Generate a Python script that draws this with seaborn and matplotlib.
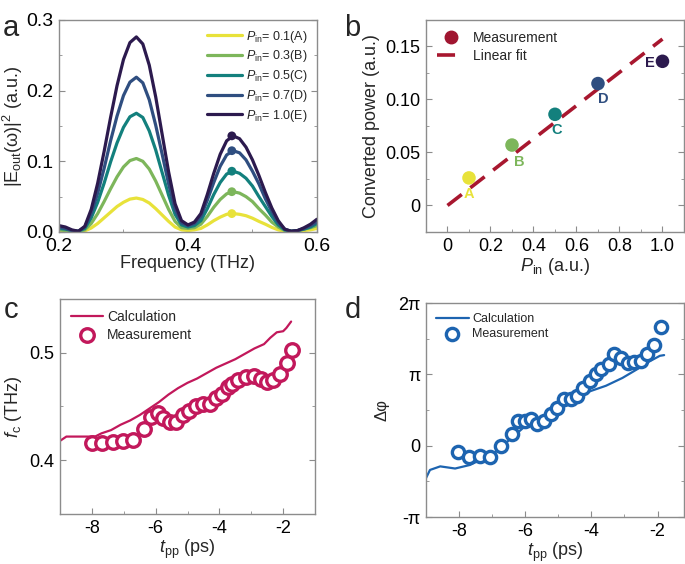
import numpy as np
import pandas as pd
import matplotlib
matplotlib.use('Agg')
import matplotlib.pyplot as plt
from matplotlib.lines import Line2D
from matplotlib.ticker import MultipleLocator
import seaborn as sns

# ---- panel a: spectra |E_out(w)|^2 for five pump powers ----
freq = np.round(np.arange(0.20, 0.605, 0.01), 2)
spec_A = [0.001, 0.001, 0.0005, 0.0003, 0.0015, 0.0056, 0.012, 0.020, 0.028, 0.036, 0.042,
          0.0465, 0.048, 0.046, 0.041, 0.033, 0.024, 0.015, 0.007, 0.003, 0.002,
          0.003, 0.005, 0.010, 0.016, 0.021, 0.025, 0.026, 0.025, 0.023, 0.0195,
          0.015, 0.011, 0.0065, 0.003, 0.001, 0.0005, 0.001, 0.002, 0.003, 0.005]
spec_B = [0.003, 0.002, 0.001, 0.0005, 0.003, 0.012, 0.026, 0.043, 0.061, 0.078, 0.092,
          0.101, 0.104, 0.100, 0.089, 0.072, 0.052, 0.032, 0.015, 0.006, 0.005,
          0.006, 0.011, 0.022, 0.035, 0.046, 0.054, 0.057, 0.055, 0.050, 0.043,
          0.033, 0.024, 0.014, 0.007, 0.002, 0.001, 0.002, 0.004, 0.006, 0.009]
spec_C = [0.005, 0.004, 0.002, 0.001, 0.005, 0.020, 0.042, 0.069, 0.099, 0.126, 0.148,
          0.163, 0.168, 0.162, 0.143, 0.116, 0.084, 0.052, 0.025, 0.010, 0.007,
          0.009, 0.016, 0.033, 0.053, 0.070, 0.082, 0.086, 0.083, 0.076, 0.065,
          0.050, 0.036, 0.022, 0.010, 0.003, 0.001, 0.002, 0.004, 0.007, 0.012]
spec_D = [0.007, 0.005, 0.002, 0.001, 0.007, 0.026, 0.055, 0.090, 0.129, 0.164, 0.193,
          0.212, 0.219, 0.211, 0.187, 0.151, 0.110, 0.068, 0.032, 0.013, 0.009,
          0.012, 0.022, 0.045, 0.070, 0.093, 0.109, 0.115, 0.112, 0.102, 0.086,
          0.068, 0.047, 0.029, 0.013, 0.004, 0.001, 0.002, 0.005, 0.009, 0.014]
spec_E = [0.009, 0.007, 0.003, 0.001, 0.008, 0.032, 0.069, 0.114, 0.162, 0.207, 0.244,
          0.268, 0.276, 0.266, 0.236, 0.191, 0.138, 0.085, 0.040, 0.016, 0.010,
          0.014, 0.026, 0.053, 0.083, 0.110, 0.129, 0.136, 0.132, 0.120, 0.102,
          0.080, 0.056, 0.034, 0.016, 0.004, 0.001, 0.002, 0.006, 0.011, 0.018]
spec_labels = [r'$P_{\rm in}$= 0.1(A)', r'$P_{\rm in}$= 0.3(B)', r'$P_{\rm in}$= 0.5(C)',
               r'$P_{\rm in}$= 0.7(D)', r'$P_{\rm in}$= 1.0(E)']
colors = ['#e8e23a', '#7db65b', '#13807d', '#2f4e80', '#2c1a4e']
peak_freq = 0.468

# ---- panel b: converted power vs P_in ----
p_in = [0.1, 0.3, 0.5, 0.7, 1.0]
conv_power = [0.026, 0.057, 0.086, 0.115, 0.136]
point_names = ['A', 'B', 'C', 'D', 'E']
name_x = [0.10, 0.335, 0.507, 0.723, 0.94]
name_y = [0.011, 0.041, 0.071, 0.100, 0.134]
fit_x = [0.0, 1.0]
fit_y = [0.0, 0.157]

# ---- panel c: centre frequency vs delay ----
calc_t = [-9.0, -8.8, -8.5, -8.2, -7.9, -7.7, -7.4, -7.1, -6.8, -6.5, -6.2, -5.9, -5.6,
          -5.3, -5.0, -4.7, -4.4, -4.1, -3.8, -3.5, -3.2, -2.9, -2.6, -2.4, -2.2, -2.0,
          -1.9, -1.75]
calc_fc = [0.418, 0.422, 0.422, 0.422, 0.422, 0.425, 0.428, 0.433, 0.437, 0.442, 0.448,
           0.454, 0.461, 0.467, 0.472, 0.476, 0.481, 0.486, 0.490, 0.494, 0.499, 0.504,
           0.508, 0.514, 0.519, 0.520, 0.523, 0.529]
meas_t_c = [-8.0, -7.69, -7.35, -7.01, -6.70, -6.36, -6.13, -5.94, -5.77, -5.56, -5.35,
            -5.14, -4.94, -4.73, -4.52, -4.31, -4.11, -3.92, -3.74, -3.61, -3.43, -3.17,
            -2.93, -2.70, -2.51, -2.31, -2.10, -1.89, -1.72]
meas_fc = [0.4156, 0.4156, 0.417, 0.418, 0.419, 0.429, 0.440, 0.444, 0.439, 0.436, 0.436,
           0.442, 0.446, 0.450, 0.452, 0.452, 0.458, 0.462, 0.468, 0.471, 0.475, 0.477,
           0.478, 0.476, 0.473, 0.475, 0.480, 0.490, 0.503]

# ---- panel d: phase difference vs delay (units of pi) ----
calc_t_d = [-9.0, -8.88, -8.57, -8.12, -7.67, -7.27, -6.87, -6.47, -6.06, -5.66, -5.26,
            -4.86, -4.46, -4.06, -3.56, -3.06, -2.55, -2.25, -1.93, -1.8]
calc_phi = [-0.455, -0.34, -0.29, -0.32, -0.27, -0.18, -0.08, 0.085, 0.25, 0.37, 0.46,
            0.58, 0.68, 0.76, 0.84, 0.95, 1.09, 1.18, 1.26, 1.27]
meas_t_d = [-8.02, -7.70, -7.37, -7.05, -6.72, -6.40, -6.21, -6.01, -5.83, -5.63, -5.43,
            -5.23, -5.03, -4.83, -4.63, -4.44, -4.24, -4.04, -3.86, -3.71, -3.48, -3.31,
            -3.10, -2.90, -2.71, -2.51, -2.31, -2.10, -1.90]
meas_phi = [-0.094, -0.164, -0.141, -0.16, -0.01, 0.17, 0.34, 0.35, 0.37, 0.30, 0.34,
            0.45, 0.53, 0.65, 0.66, 0.69, 0.81, 0.90, 1.0, 1.07, 1.14, 1.28,
            1.23, 1.16, 1.18, 1.19, 1.28, 1.41, 1.66]

sns.set_style('ticks')
plt.rcParams['font.family'] = ['Liberation Sans', 'DejaVu Sans']
plt.rcParams['mathtext.fontset'] = 'custom'
plt.rcParams['mathtext.rm'] = 'Liberation Sans'
plt.rcParams['mathtext.it'] = 'Liberation Sans:italic'
plt.rcParams['axes.edgecolor'] = '#8c8c8c'
plt.rcParams['xtick.color'] = '#8c8c8c'
plt.rcParams['ytick.color'] = '#8c8c8c'
plt.rcParams['xtick.labelcolor'] = 'black'
plt.rcParams['ytick.labelcolor'] = 'black'

fig = plt.figure(figsize=(6.85, 5.64), dpi=100)
ax_a = fig.add_axes([0.0861, 0.5887, 0.3766, 0.3759])
ax_b = fig.add_axes([0.6219, 0.5887, 0.3766, 0.3759])
ax_c = fig.add_axes([0.0876, 0.0887, 0.3723, 0.3812])
ax_d = fig.add_axes([0.6219, 0.0833, 0.3766, 0.3794])


def style_ax(ax, size=13):
    ax.tick_params(which='both', direction='in', right=True, labelsize=size, pad=4)
    ax.tick_params(which='major', length=4)
    ax.tick_params(which='minor', length=2.5)
    for s in ax.spines.values():
        s.set_linewidth(1.0)


# panel a
for vals, col, lab in zip([spec_A, spec_B, spec_C, spec_D, spec_E], colors, spec_labels):
    sns.lineplot(x=freq, y=vals, color=col, lw=2.3, label=lab, ax=ax_a)
sns.scatterplot(x=[peak_freq] * 5, y=conv_power, hue=point_names, palette=colors,
                s=40, edgecolor='none', legend=False, ax=ax_a, zorder=5)
ax_a.set_xlim(0.2, 0.6)
ax_a.set_ylim(0, 0.3)
ax_a.xaxis.set_minor_locator(MultipleLocator(0.1))
ax_a.yaxis.set_minor_locator(MultipleLocator(0.05))
ax_a.set_xticks([0.2, 0.4, 0.6], ['0.2', '0.4', '0.6'])
ax_a.set_yticks([0, 0.1, 0.2, 0.3], ['0.0', '0.1', '0.2', '0.3'])
ax_a.set_xlabel('Frequency (THz)', fontsize=13, labelpad=0)
ax_a.set_ylabel(r'|E$_{\rm out}$(ω)|$^2$ (a.u.)', fontsize=13, labelpad=1)
ax_a.legend(loc='upper right', frameon=False, fontsize=9, handlelength=2.8,
            handletextpad=0.3, labelspacing=0.3, borderaxespad=0.3)
style_ax(ax_a, 14)

# panel b
sns.lineplot(x=fit_x, y=fit_y, color='#a8172f', lw=2.6, ax=ax_b,
             dashes=False, linestyle=(0, (5, 3)))
sns.scatterplot(x=p_in, y=conv_power, hue=point_names, palette=colors, s=95,
                edgecolor='none', legend=False, ax=ax_b, zorder=5)
for nx, ny, nm, col in zip(name_x, name_y, point_names, colors):
    ax_b.text(nx, ny, nm, color=col, fontsize=10.5, fontweight='bold',
              ha='center', va='center')
ax_b.set_xlim(-0.1, 1.1)
ax_b.set_ylim(-0.025, 0.175)
ax_b.set_xticks([0, 0.2, 0.4, 0.6, 0.8, 1.0], ['0', '0.2', '0.4', '0.6', '0.8', '1.0'])
ax_b.xaxis.set_minor_locator(MultipleLocator(0.1))
ax_b.set_yticks([0, 0.05, 0.10, 0.15], ['0', '0.05', '0.10', '0.15'])
ax_b.yaxis.set_minor_locator(MultipleLocator(0.025))
ax_b.set_xlabel(r'$P_{\rm in}$ (a.u.)', fontsize=13, labelpad=1)
ax_b.set_ylabel('Converted power (a.u.)', fontsize=13, labelpad=4)
handles_b = [Line2D([], [], marker='o', ls='none', color='#a01530', ms=9),
             Line2D([], [], color='#a8172f', lw=2.6, ls=(0, (5, 3)))]
ax_b.legend(handles_b, ['Measurement', 'Linear fit'], loc='upper left', frameon=False,
            fontsize=10, handlelength=2.0, handletextpad=0.6, labelspacing=0.3,
            borderaxespad=0.4)
style_ax(ax_b)

# panel c
crim = '#c2185b'
sns.lineplot(x=calc_t, y=calc_fc, color=crim, lw=1.6, ax=ax_c, label='Calculation')
sns.scatterplot(x=meas_t_c, y=meas_fc, s=95, facecolor='white', edgecolor=crim,
                linewidth=2.4, ax=ax_c, zorder=5, label='Measurement')
ax_c.set_xlim(-9, -1)
ax_c.set_ylim(0.35, 0.55)
ax_c.set_xticks([-8, -6, -4, -2], ['-8', '-6', '-4', '-2'])
ax_c.xaxis.set_minor_locator(MultipleLocator(1))
ax_c.set_yticks([0.4, 0.5], ['0.4', '0.5'])
ax_c.yaxis.set_minor_locator(MultipleLocator(0.05))
ax_c.set_xlabel(r'$t_{\rm pp}$ (ps)', fontsize=13, labelpad=1)
ax_c.set_ylabel(r'$f_{\rm c}$ (THz)', fontsize=13, labelpad=4)
ax_c.legend(loc='upper left', frameon=False, fontsize=10, handlelength=2.3,
            handletextpad=0.3, labelspacing=0.25, borderaxespad=0.4)
style_ax(ax_c)

# panel d
blue = '#1d64b0'
sns.lineplot(x=calc_t_d, y=calc_phi, color=blue, lw=1.6, ax=ax_d, label='Calculation')
sns.scatterplot(x=meas_t_d, y=meas_phi, s=78, facecolor='white', edgecolor=blue,
                linewidth=2.4, ax=ax_d, zorder=5, label='Measurement')
ax_d.set_xlim(-9, -1.2)
ax_d.set_ylim(-1, 2)
ax_d.set_xticks([-8, -6, -4, -2], ['-8', '-6', '-4', '-2'])
ax_d.xaxis.set_minor_locator(MultipleLocator(1))
ax_d.set_yticks([-1, 0, 1, 2], ['-π', '0', 'π', '2π'])
ax_d.yaxis.set_minor_locator(MultipleLocator(0.5))
ax_d.set_xlabel(r'$t_{\rm pp}$ (ps)', fontsize=13, labelpad=1)
ax_d.set_ylabel('Δφ', fontsize=12, labelpad=6)
ax_d.legend(loc='upper left', frameon=False, fontsize=9, handlelength=2.6,
            handletextpad=0.3, labelspacing=0.25, borderaxespad=0.4)
style_ax(ax_d)

# panel letters
for lx, ly, lt in [(0.004, 0.975, 'a'), (0.503, 0.975, 'b'),
                   (0.006, 0.475, 'c'), (0.503, 0.475, 'd')]:
    fig.text(lx, ly, lt, fontsize=21, va='top', ha='left')

fig.savefig('out.png', dpi=100)
